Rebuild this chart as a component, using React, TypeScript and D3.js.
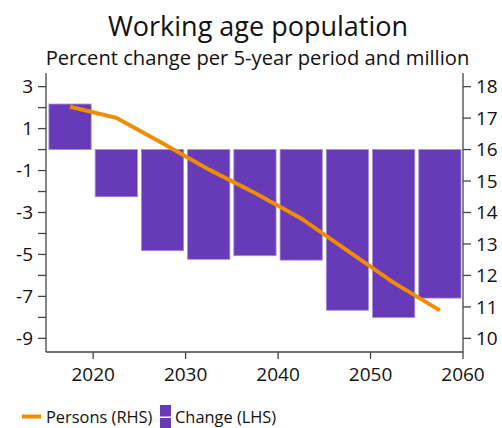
import React from "react";
import * as d3 from "d3";

const periods = ["2015-2020", "2020-2025", "2025-2030", "2030-2035", "2035-2040", "2040-2045", "2045-2050", "2050-2055", "2055-2060"];
const periodStart = [2015, 2020, 2025, 2030, 2035, 2040, 2045, 2050, 2055];
const changeLHS = [2.17, -2.25, -4.82, -5.23, -5.06, -5.27, -7.66, -8.0, -7.08];
const personsRHS = [17.36, 17.01, 16.2, 15.37, 14.62, 13.81, 12.79, 11.77, 10.89];
const xTicks = [2020, 2030, 2040, 2050, 2060];
const leftTicks = [3, 2, 1, 0, -1, -2, -3, -4, -5, -6, -7, -8, -9];
const leftLabels = [3, 1, -1, -3, -5, -7, -9];
const rightTicks = [18, 17, 16, 15, 14, 13, 12, 11, 10];

const W = 502;
const H = 428;
const FONT = "'Open Sans', 'Noto Sans', sans-serif";
const PURPLE = "#673ab7";
const PURPLE_EDGE = "#a58bd6";
const ORANGE = "#ef8c00";
const AXIS = "#444";

export default function App() {
  const left = 46, right = 463, top = 73, bottom = 352;
  const x = d3.scaleLinear().domain([2014.9, 2060]).range([left, right]);
  const yL = d3.scaleLinear().domain([-9.65, 3.65]).range([bottom, top]);
  const yR = d3.scaleLinear().domain([9.567, 18.433]).range([bottom, top]);
  const line = d3
    .line<number>()
    .x((_, i) => x(periodStart[i] + 2.5))
    .y((d) => yR(d));

  return (
    <svg width={W} height={H} style={{ position: "absolute", left: 0, top: 0, background: "#fff" }} fontFamily={FONT}>
      <text x={258} y={36} textAnchor="middle" fontSize={27} fill="#111">Working age population</text>
      <text x={257.5} y={65} textAnchor="middle" fontSize={20.2} fill="#111">Percent change per 5-year period and million</text>

      {changeLHS.map((v, i) => {
        const x0 = x(periodStart[i]) + 2;
        const x1 = x(periodStart[i] + 5) - 2;
        const y0 = yL(Math.max(0, v));
        const y1 = yL(Math.min(0, v));
        return (
          <rect key={periods[i]} x={x0} y={y0} width={x1 - x0} height={y1 - y0} fill={PURPLE} stroke={PURPLE_EDGE} strokeWidth={0.8} />
        );
      })}

      <path d={line(personsRHS) || ""} fill="none" stroke={ORANGE} strokeWidth={4} />

      {/* left axis */}
      <line x1={left} x2={left} y1={top} y2={bottom} stroke={AXIS} strokeWidth={1.3} />
      {leftTicks.map((t) => (
        <line key={"lt" + t} x1={left - 8} x2={left} y1={yL(t)} y2={yL(t)} stroke={AXIS} strokeWidth={1.3} />
      ))}
      {leftLabels.map((t) => (
        <text key={"ll" + t} x={33} y={yL(t)} dy="0.35em" textAnchor="end" fontSize={19} fill="#111">{t}</text>
      ))}

      {/* right axis */}
      <line x1={right} x2={right} y1={top} y2={bottom} stroke={AXIS} strokeWidth={1.3} />
      {rightTicks.map((t) => (
        <g key={"r" + t}>
          <line x1={right} x2={right + 8} y1={yR(t)} y2={yR(t)} stroke={AXIS} strokeWidth={1.3} />
          <text x={476} y={yR(t)} dy="0.35em" fontSize={19} fill="#111">{t}</text>
        </g>
      ))}

      {/* bottom axis */}
      <line x1={left} x2={right} y1={bottom} y2={bottom} stroke={AXIS} strokeWidth={1.3} />
      {xTicks.map((t) => (
        <g key={"x" + t}>
          <line x1={x(t)} x2={x(t)} y1={bottom} y2={bottom + 7} stroke={AXIS} strokeWidth={1.3} />
          <text x={x(t)} y={381} textAnchor="middle" fontSize={19} fill="#111">{t}</text>
        </g>
      ))}

      {/* legend */}
      <line x1={22} x2={41} y1={416.5} y2={416.5} stroke={ORANGE} strokeWidth={4} />
      <text x={46} y={423} fontSize={16.4} fill="#111">Persons (RHS)</text>
      <rect x={160} y={405} width={11} height={11.5} fill={PURPLE} />
      <rect x={160} y={418} width={11} height={10} fill={PURPLE} />
      <text x={175} y={423} fontSize={16.4} fill="#111">Change (LHS)</text>
    </svg>
  );
}
